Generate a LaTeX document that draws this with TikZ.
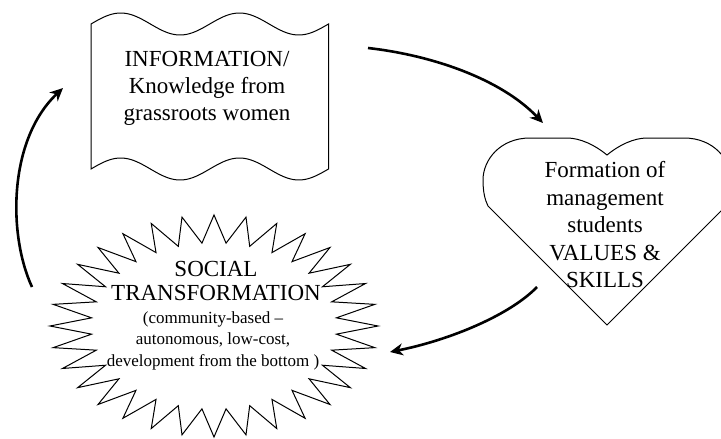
\documentclass[tikz,border=0pt]{standalone}
\usepackage{fontspec}
\setmainfont{Liberation Serif}
\usetikzlibrary{arrows.meta}

\begin{document}
\begin{tikzpicture}[x=1pt, y=-1pt,
  outline/.style={draw=black, line width=1pt, fill=white, line join=miter},
  flow/.style={draw=black, line width=2.6pt,
    -{Stealth[length=13pt, width=12pt, inset=4pt]}},
  bigtext/.style={font=\fontsize{23}{27}\selectfont, align=center, inner sep=0pt, anchor=north},
  smalltext/.style={font=\fontsize{17}{21.5}\selectfont, align=center, inner sep=0pt, anchor=north}]

\useasboundingbox (0,0) rectangle (721,439);
\clip (0,0) rectangle (721,439);

% punched-tape box: wavy top and bottom edges (two periods of 118.75)
\draw[outline]
  plot[domain=0:237.5, samples=90] ({91+\x},{24-11*sin(3.0316*\x)})
  -- plot[domain=237.5:0, samples=90] ({91+\x},{169-11*sin(3.0316*\x)})
  -- cycle;
\node[bigtext] (info) at (207,51.5) {INFORMATION/\\Knowledge from\\grassroots women};

% heart
\draw[outline]
  (607,155) .. controls (595,145) and (580,138) .. (567,138) -- (530,138)
  .. controls (500,138) and (483,160) .. (483,180)
  .. controls (483,192) and (485,200) .. (488,206)
  -- (607,325) -- (726,206)
  .. controls (729,200) and (731,192) .. (731,180)
  .. controls (731,160) and (714,138) .. (684,138) -- (647,138)
  .. controls (634,138) and (619,145) .. (607,155) -- cycle;
\node[bigtext, font=\fontsize{23}{27.5}\selectfont] (values) at (605,161.5)
  {Formation of\\management\\students\\VALUES \&\\SKILLS};

% 32-point star
\draw[outline] (378,326)
  \foreach \k in {1,...,63} {
    -- ({214+164*(0.875+0.125*cos(180*\k))*cos(\k*5.625)},
        {326-111*(0.875+0.125*cos(180*\k))*sin(\k*5.625)})
  } -- cycle;
\node[bigtext, font=\fontsize{23}{24}\selectfont] (social) at (216,261.5)
  {SOCIAL\\TRANSFORMATION};
\node[smalltext] (detail) at (213,311.5)
  {(community-based --\\autonomous, low-cost,\\development from the bottom )};

% cycle arrows
\coordinate (a1s) at (368,48);
\coordinate (a1e) at (543,123);
\coordinate (a2s) at (537,287);
\coordinate (a2e) at (390,352);
\coordinate (a3s) at (32,287);
\coordinate (a3e) at (63,88);
\draw[flow] (a1s) .. controls (430,55) and (500,78) .. (a1e);
\draw[flow] (a2s) .. controls (510,315) and (450,340) .. (a2e);
\draw[flow] (a3s) .. controls (8,235) and (8,140) .. (a3e);
\end{tikzpicture}
\end{document}
